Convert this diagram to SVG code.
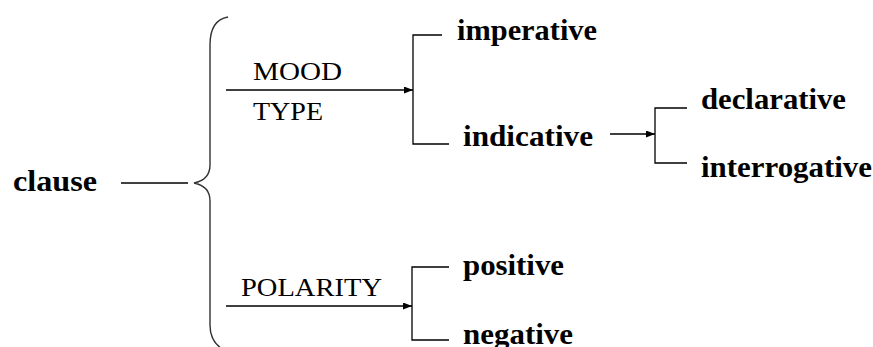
<svg xmlns="http://www.w3.org/2000/svg" width="873" height="347" viewBox="0 0 873 347">
<style>
.ln{fill:none;stroke:#000;stroke-width:1.3}
.br{fill:none;stroke:#333;stroke-width:1.4}
.lab{font-size:26px;fill:#000}
.node{font-size:30px;font-weight:bold;fill:#000}
</style>
<defs>
<marker id="ah" markerUnits="userSpaceOnUse" markerWidth="10" markerHeight="8" refX="9" refY="3.5" orient="auto">
<path d="M0,0 L9,3.5 L0,7 z" fill="#000"/>
</marker>
</defs>
<rect width="873" height="347" fill="#fff"/>
<g id="connectors">
<line class="ln" x1="121" y1="183" x2="188" y2="183"/>
<path class="br" d="M228,17 C216,19 210,28 210,45 L210,165 C210,175 204,181 194,183 C204,185 210,191 210,201 L210,325 C210,338 216,347 228,352"/>
<line class="ln" x1="226" y1="90" x2="413" y2="90" marker-end="url(#ah)"/>
<line class="ln" x1="226" y1="306" x2="412" y2="306" marker-end="url(#ah)"/>
<line class="ln" x1="610" y1="134" x2="655" y2="134" marker-end="url(#ah)"/>
<path class="ln" d="M442,35 H413 V144 H449"/>
<path class="ln" d="M687,108 H655 V163 H687"/>
<path class="ln" d="M449,267 H412 V340 H449"/>
<g font-family="Liberation Serif, Times New Roman, Tinos, Noto Serif, FreeSerif, serif">
<text class="lab" x="253" y="80" textLength="89" lengthAdjust="spacingAndGlyphs">MOOD</text>
<text class="lab" x="253" y="120" textLength="70" lengthAdjust="spacingAndGlyphs">TYPE</text>
<text class="lab" x="241" y="296" textLength="141" lengthAdjust="spacingAndGlyphs">POLARITY</text>
</g>
</g>
<g font-family="Liberation Serif, Times New Roman, Tinos, Noto Serif, FreeSerif, serif">
<g id="clause"><text class="node" x="13" y="191" textLength="84" lengthAdjust="spacingAndGlyphs">clause</text></g>
<g id="imperative"><text class="node" x="457" y="40" textLength="140" lengthAdjust="spacingAndGlyphs">imperative</text></g>
<g id="indicative"><text class="node" x="463" y="146" textLength="130" lengthAdjust="spacingAndGlyphs">indicative</text></g>
<g id="declarative"><text class="node" x="701" y="109" textLength="145" lengthAdjust="spacingAndGlyphs">declarative</text></g>
<g id="interrogative"><text class="node" x="701" y="177" textLength="171" lengthAdjust="spacingAndGlyphs">interrogative</text></g>
<g id="positive"><text class="node" x="463" y="275" textLength="101" lengthAdjust="spacingAndGlyphs">positive</text></g>
<g id="negative"><text class="node" x="463" y="344" textLength="110" lengthAdjust="spacingAndGlyphs">negative</text></g>
</g>
</svg>
